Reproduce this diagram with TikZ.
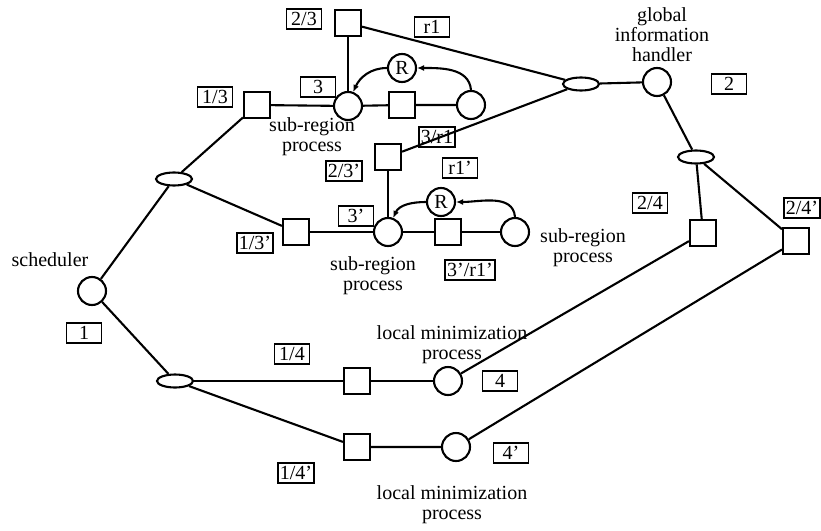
\documentclass[tikz,border=0pt]{standalone}
\usepackage{fontspec}
\setmainfont{Liberation Serif}
\usetikzlibrary{positioning,arrows.meta,shapes.geometric}

\begin{document}
\begin{tikzpicture}[
    x=1pt, y=-1pt,
    every node/.style={font=\fontsize{20}{20}\selectfont},
    proc/.style={ % process (circle)
        draw, circle, line width=2.1pt,
        minimum size=28pt, inner sep=0pt
    },
    port/.style={ % queue (square)
        draw, rectangle, line width=2.1pt,
        minimum size=26pt, inner sep=0pt
    },
    split/.style={ % fork (ellipse)
        draw, ellipse, line width=2.1pt,
        minimum width=36pt, minimum height=13pt, inner sep=0pt
    },
    tag/.style={ % numbered box
        draw, line width=1.5pt,
        minimum width=35pt, minimum height=20pt,
        inner xsep=2pt, inner ysep=1pt
    },
    lbl/.style={align=center},
    link/.style={line width=2.1pt},
    feed/.style={-{Latex[length=7pt,width=6pt]}, line width=2.1pt}
]
\useasboundingbox (0,0) rectangle (821,530);

% ================= SCHEDULER =================
\node[proc]  (sched)  at (92,291) {};
\node[lbl]   (schedL) at (50,260) {scheduler};
\node[tag]   (t1)     at (84,333) {1};
\node[split] (splitA) at (174,179) {};
\node[split] (splitB) at (175,381) {};

% ================= SUB-REGION (upper) =================
\node[port] (inA)  at (257,105) {};
\node[proc] (procA) at (348,106) {};
\node[port] (midA) at (402,105) {};
\node[proc] (nbrA) at (471,105) {};
\node[proc] (RA)   at (402,68) {R};
\node[port] (outA) at (348,23) {};
\node[tag] (t13) at (215,97) {1/3};
\node[tag] (t3)  at (318,87) {3};
\node[tag] (t23) at (304,19) {2/3};
\node[tag] (tr1) at (432,27) {r1};
\node[tag] (t3r1) at (437,137) {3/r1};
\node[lbl] (procAL) at (312,137) {sub-region\\process};

% ================= SUB-REGION (lower) =================
\node[port] (inB)  at (296,232) {};
\node[proc] (procB) at (388,232) {};
\node[port] (midB) at (448,232) {};
\node[proc] (nbrB) at (515,232) {};
\node[proc] (RB)   at (441,202) {R};
\node[port] (outB) at (388,157) {};
\node[tag] (t13p) at (255,243) {1/3'};
\node[tag] (t3p)  at (356,216) {3'};
\node[tag] (t23p) at (344,171) {2/3'};
\node[tag] (tr1p) at (460,168) {r1'};
\node[tag] (t3pr1p) at (470,270) {3'/r1'};
\node[lbl] (procBL) at (373,276) {sub-region\\process};
\node[lbl] (nbrBL)  at (583,248) {sub-region\\process};

% ================= GLOBAL INFORMATION HANDLER =================
\node[split] (splitH) at (581,84) {};
\node[proc]  (handler) at (657,82) {};
\node[lbl]   (handlerL) at (662,35) {global\\information\\handler};
\node[tag]   (t2) at (729,84) {2};
\node[split] (splitC) at (696,157) {};
\node[port]  (sqC) at (703,233) {};
\node[port]  (sqD) at (796,241) {};
\node[tag]   (t24)  at (650,203) {2/4};
\node[tag]   (t24p) at (802,208) {2/4'};

% ================= LOCAL MINIMIZATION =================
\node[port] (inC) at (357,381) {};
\node[proc] (lmC) at (448,381) {};
\node[port] (inD) at (357,447) {};
\node[proc] (lmD) at (456,447) {};
\node[tag] (t14)  at (292,354) {1/4};
\node[tag] (t14p) at (296,473) {1/4'};
\node[tag] (t4)   at (500,381) {4};
\node[tag] (t4p)  at (511,453) {4'};
\node[lbl] (lmCL) at (452,345) {local minimization\\process};
\node[lbl] (lmDL) at (452,505) {local minimization\\process};

% ================= CONNECTORS =================
\draw[link] (sched) -- (splitA);
\draw[link] (sched) -- (splitB);
\draw[link] (splitA) -- (inA);
\draw[link] (splitA) -- (inB);
\draw[link] (inA) -- (procA) -- (midA) -- (nbrA);
\draw[link] (inB) -- (procB) -- (midB) -- (nbrB);
\draw[link] (outA) -- (procA);
\draw[link] (outB) -- (procB);
\draw[link] (outA) -- (splitH);
\draw[link] (outB) -- (splitH);
\draw[link] (splitH) -- (handler);
\draw[link] (handler) -- (splitC);
\draw[link] (splitC) -- (sqC);
\draw[link] (splitC) -- (sqD);
\draw[link] (sqC) -- (lmC);
\draw[link] (sqD) -- (lmD);
\draw[link] (splitB) -- (inC) -- (lmC);
\draw[link] (splitB) -- (inD) -- (lmD);

% feedback through R
\draw[feed] (nbrA.north) to[out=95, in=0] (RA.east);
\draw[feed] (RA.west) to[out=180, in=65] (procA.70);
\draw[feed] (nbrB.north) to[out=95, in=0] (RB.east);
\draw[feed] (RB.west) to[out=180, in=65] (procB.70);

\end{tikzpicture}
\end{document}
